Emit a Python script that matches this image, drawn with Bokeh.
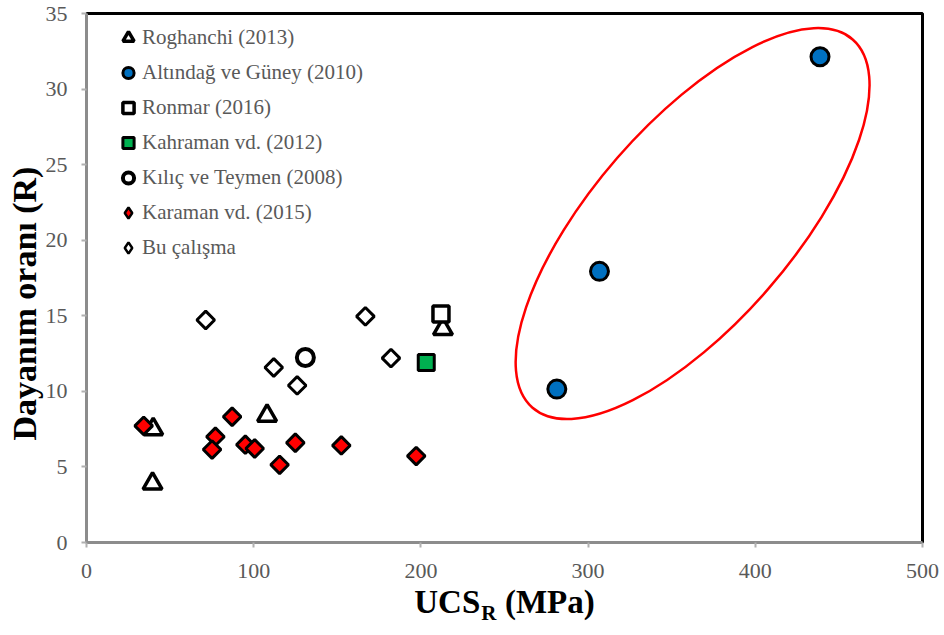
import math
from bokeh.plotting import figure
from bokeh.models import Range1d, Legend, LegendItem, FixedTicker, LinearAxis
from bokeh.embed import file_html
from bokeh.resources import INLINE

# ---- data ----
rog_x = [39.5, 39.9, 108.0, 213.2]
rog_y = [3.90, 7.50, 8.39, 14.12]
alt_x = [281.3, 306.8, 438.7]
alt_y = [10.15, 17.94, 32.14]
ron_x = [212.0]
ron_y = [15.12]
kah_x = [203.2]
kah_y = [11.91]
kil_x = [130.9]
kil_y = [12.24]
kar_x = [34.2, 77.1, 75.1, 87.1, 95.0, 100.6, 115.5, 124.9, 152.4, 197.2]
kar_y = [7.72, 7.00, 6.15, 8.32, 6.47, 6.22, 5.14, 6.60, 6.42, 5.72]
bu_x = [71.3, 112.0, 126.0, 166.8, 182.1]
bu_y = [14.72, 11.58, 10.39, 14.96, 12.20]

labels = ["Roghanchi (2013)", "Altındağ ve Güney (2010)", "Ronmar (2016)",
          "Kahraman vd. (2012)", "Kılıç ve Teymen (2008)", "Karaman vd. (2015)",
          "Bu çalışma"]
x_ticks = [0, 100, 200, 300, 400, 500]
y_ticks = [0, 5, 10, 15, 20, 25, 30, 35]

NB = "\u00a0"
y_title = "Dayanım oranı (R)"
x_title_main = "UCS" + NB * 3 + "(MPa)"
x_title_sub = "R"

# highlighted group (ellipse around Altındağ ve Güney points)
ell_cx, ell_cy = 362.5, 21.1

SERIF = "Liberation Serif"
GRAY = "#595959"

p = figure(width=944, height=635, output_backend="svg", toolbar_location=None,
           x_range=Range1d(0, 500), y_range=Range1d(0, 35),
           min_border_left=86, min_border_right=22, min_border_top=13,
           min_border_bottom=93)
p.grid.visible = False
p.outline_line_color = "black"
p.outline_line_width = 3
p.background_fill_color = "white"
p.border_fill_color = "white"

for ax, ticks in ((p.xaxis, x_ticks), (p.yaxis, y_ticks)):
    ax.ticker = FixedTicker(ticks=ticks)
    ax.axis_line_color = "#8c8c8c"
    ax.axis_line_width = 3
    ax.major_tick_line_color = "#b0b0b0"
    ax.major_tick_line_width = 2
    ax.major_tick_out = 5
    ax.major_tick_in = 0
    ax.minor_tick_line_color = None
    ax.major_label_text_font = SERIF
    ax.major_label_text_font_size = "22px"
    ax.major_label_text_color = GRAY
    ax.axis_label_text_font = SERIF
    ax.axis_label_text_font_style = "bold"
    ax.axis_label_text_font_size = "33px"
    ax.axis_label_text_color = "black"
p.xaxis.major_label_standoff = 16
p.yaxis.major_label_standoff = 14
p.xaxis.axis_label = x_title_main
p.xaxis.axis_label_standoff = 3
p.yaxis.axis_label = y_title + NB * 6
p.yaxis.axis_label_text_font_size = "34px"
p.yaxis.axis_label_standoff = 0

# second (label-only) axis carrying the subscript R
sub_axis = LinearAxis(ticker=FixedTicker(ticks=[]), axis_line_color=None,
                      major_tick_line_color=None, minor_tick_line_color=None,
                      axis_label=x_title_sub + NB * 6,
                      axis_label_text_font=SERIF, axis_label_text_font_style="bold",
                      axis_label_text_font_size="21px", axis_label_text_color="black",
                      axis_label_standoff=-22)
p.add_layout(sub_axis, "below")

p.ellipse(x=[ell_cx], y=[ell_cy], width=488, height=200, angle=math.radians(49),
          width_units="screen", height_units="screen",
          fill_color=None, line_color="#FF0000", line_width=2.5)

# legend-only glyphs for the diamonds (zero size on the plot, hidden under the real marks)
l_kar = p.scatter(kar_x, kar_y, marker="diamond", size=0, fill_color="#FF0000",
                  line_color="black", line_width=2.5)
l_bu = p.scatter(bu_x, bu_y, marker="diamond", size=0, fill_color="white",
                 line_color="black", line_width=2.5)

r_rog = p.scatter(rog_x, rog_y, marker="triangle", size=19, fill_color="white",
                  line_color="black", line_width=3.5)
r_alt = p.scatter(alt_x, alt_y, marker="circle", size=18, fill_color="#0070C0",
                  line_color="black", line_width=3)
r_ron = p.scatter(ron_x, ron_y, marker="square", size=16, fill_color="white",
                  line_color="black", line_width=3.5)
r_kah = p.scatter(kah_x, kah_y, marker="square", size=16, fill_color="#00B050",
                  line_color="black", line_width=3)
r_kil = p.scatter(kil_x, kil_y, marker="circle", size=17, fill_color="white",
                  line_color="black", line_width=4)
r_kar = p.scatter(kar_x, kar_y, marker="square", angle=math.pi / 4, size=12.5,
                  fill_color="#FF0000", line_color="black", line_width=3)
r_bu = p.scatter(bu_x, bu_y, marker="square", angle=math.pi / 4, size=12.5,
                 fill_color="white", line_color="black", line_width=3)

legend = Legend(items=[
    LegendItem(label=labels[0], renderers=[r_rog]),
    LegendItem(label=labels[1], renderers=[r_alt]),
    LegendItem(label=labels[2], renderers=[r_ron]),
    LegendItem(label=labels[3], renderers=[r_kah]),
    LegendItem(label=labels[4], renderers=[r_kil]),
    LegendItem(label=labels[5], renderers=[l_kar]),
    LegendItem(label=labels[6], renderers=[l_bu]),
], location=(28, 277), orientation="vertical")
legend.border_line_color = None
legend.background_fill_alpha = 0
legend.padding = 0
legend.margin = 0
legend.spacing = 0
legend.glyph_width = 28
legend.glyph_height = 35
legend.label_height = 35
legend.label_standoff = 0
legend.label_text_font = SERIF
legend.label_text_font_size = "21px"
legend.label_text_color = GRAY
p.add_layout(legend, "center")

open("out.html", "w").write(file_html(p, INLINE))
